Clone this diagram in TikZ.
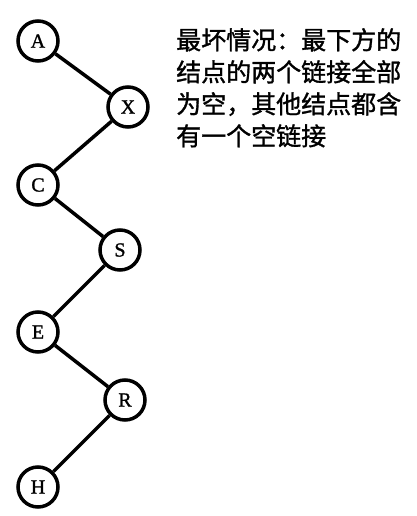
\documentclass[tikz,border=0pt]{standalone}
\usepackage{fontspec}
\setmainfont{Liberation Serif}
\newfontfamily\cjk[FakeBold=1.2]{Noto Sans CJK SC}
\newfontfamily\nodefont[FakeBold=1.2]{Liberation Serif}
\begin{document}
\begin{tikzpicture}[x=1pt,y=-1pt,
  treenode/.style={circle,draw=black,line width=3.5pt,minimum size=40pt,inner sep=0pt,fill=white,font=\nodefont\fontsize{20}{20}\selectfont},
  treeedge/.style={line width=3.5pt,black}]
\useasboundingbox (0,0) rectangle (417,516);
\node[treenode] (A) at (38,41) {A};
\node[treenode] (X) at (128,107) {X};
\node[treenode] (C) at (38,185) {C};
\node[treenode] (S) at (120,250) {S};
\node[treenode] (E) at (38,332) {E};
\node[treenode] (R) at (125,400) {R};
\node[treenode] (H) at (38,487) {H};
\draw[treeedge] (A) -- (X);
\draw[treeedge] (X) -- (C);
\draw[treeedge] (C) -- (S);
\draw[treeedge] (S) -- (E);
\draw[treeedge] (E) -- (R);
\draw[treeedge] (R) -- (H);
\node[anchor=north west,align=left,inner sep=0pt,font=\cjk\fontsize{25}{32}\selectfont] (T) at (176,28)
{最坏情况：最下方的\\结点的两个链接全部\\为空，其他结点都含\\有一个空链接};
\end{tikzpicture}
\end{document}
